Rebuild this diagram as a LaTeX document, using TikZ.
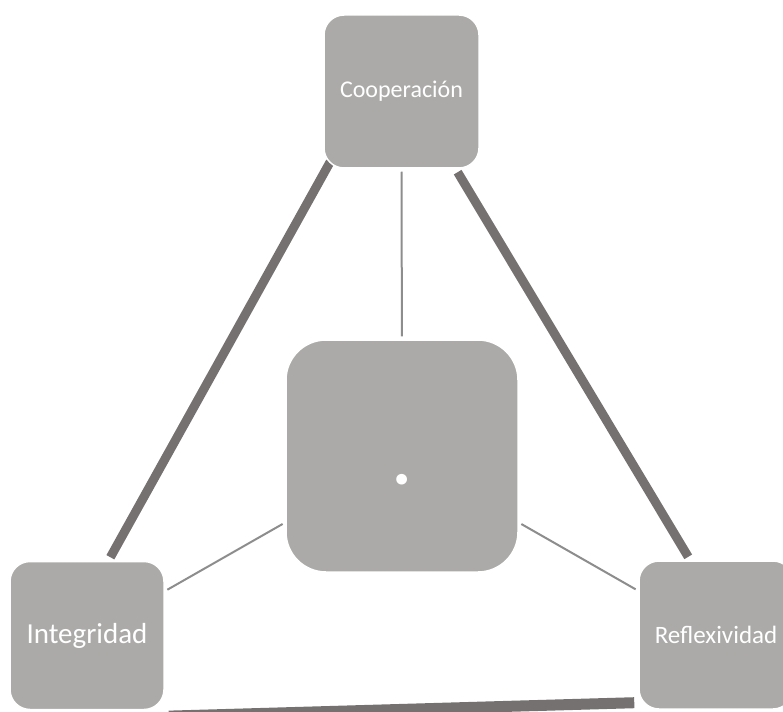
\documentclass[tikz,border=0pt]{standalone}
\usepackage{fontspec}
\setmainfont{Carlito}
\usetikzlibrary{calc,backgrounds}
\definecolor{boxgray}{RGB}{171,170,169}
\definecolor{linkdark}{RGB}{117,113,112}
\definecolor{linklight}{RGB}{141,141,141}

\begin{document}
\begin{tikzpicture}[x=1pt,y=-1pt,
  box/.style={fill=boxgray,draw=white,line width=1.5pt,text=white,inner sep=0pt,
    rounded corners=20pt,minimum width=155pt,minimum height=153pt},
  heavy/.style={draw=linkdark,line width=9pt,shorten >=4pt,shorten <=4pt},
  light/.style={draw=linklight,line width=2pt,shorten >=3pt,shorten <=3pt}]
\clip (0,0) rectangle (783,711);
\node[box,font=\fontsize{24}{24}\selectfont] (coop) at (401.5,91.5) {Cooperación};
\node[box,minimum width=232pt,minimum height=232pt,rounded corners=40pt,
  font=\fontsize{72}{72}\bfseries,text height=56pt,text depth=0pt] (mid) at (402,456) {.};
\node[box,minimum width=154pt,minimum height=148pt,font=\fontsize{29}{29}\selectfont] (integ) at (87,635.5) {Integridad};
\node[box,minimum width=154pt,minimum height=148pt,font=\fontsize{25}{25}\selectfont] (refl) at (716,635) {Reflexividad};
\begin{scope}[on background layer]
% outer ring of thick links
\path[heavy]
($(coop.south west)+(7,-7)$) edge[shorten <=0pt] (integ.74)
(coop.-55) edge (refl.109)
($(integ.south east)+(0,6)$) edge[line width=11pt] (refl.221)
;
% spokes to the middle box
\path[light]
(coop) edge (mid)
(mid) edge (integ)
(mid) edge (refl)
;
\end{scope}
\end{tikzpicture}
\end{document}
